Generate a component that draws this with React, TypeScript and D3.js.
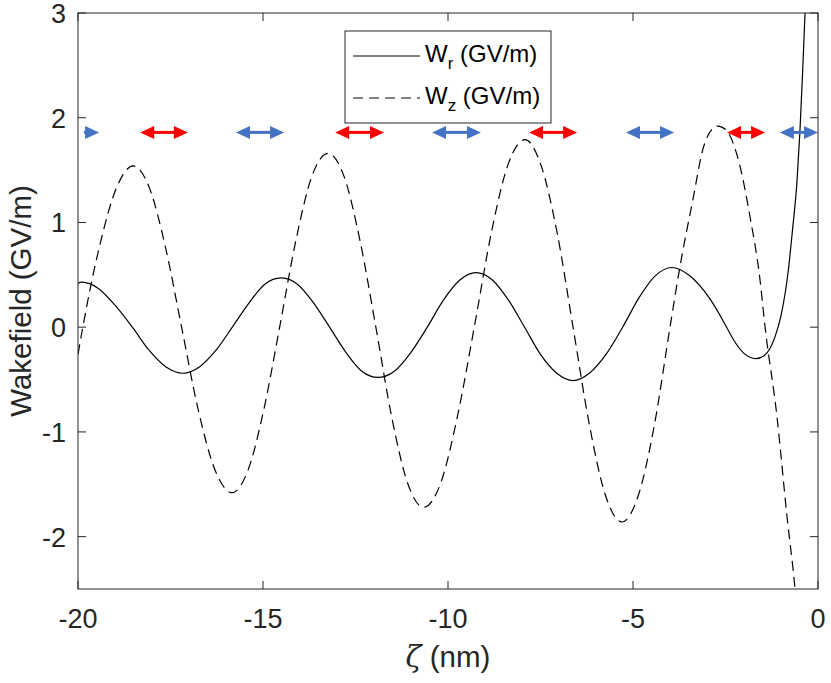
import { useEffect, useRef } from "react";
import * as d3 from "d3";

// ── Data ──────────────────────────────────────────────────

// W_r (GV/m), solid line: [zeta nm, value]
const wrPoints: [number, number][] = [
  [-20.0, 0.42], [-19.9, 0.43], [-19.45, 0.37], [-19.0, 0.21], [-18.53, 0.0],
  [-18.08, -0.22], [-17.62, -0.38], [-17.16, -0.44], [-16.72, -0.38], [-16.27, -0.22],
  [-15.83, 0.0], [-15.38, 0.23], [-14.95, 0.41], [-14.51, 0.47], [-14.07, 0.41],
  [-13.63, 0.23], [-13.2, 0.0], [-12.76, -0.24], [-12.33, -0.42], [-11.89, -0.48],
  [-11.45, -0.42], [-11.0, -0.24], [-10.56, 0.0], [-10.12, 0.26], [-9.68, 0.45],
  [-9.24, 0.52], [-8.8, 0.45], [-8.37, 0.26], [-7.93, 0.0], [-7.5, -0.26],
  [-7.06, -0.44], [-6.62, -0.51], [-6.18, -0.44], [-5.73, -0.26], [-5.28, 0.0],
  [-4.84, 0.28], [-4.4, 0.49], [-3.95, 0.57], [-3.5, 0.5], [-2.92, 0.27],
  [-2.47, 0.0], [-2.3, -0.11], [-2.0, -0.25], [-1.68, -0.3], [-1.45, -0.27],
  [-1.16, -0.09], [-1.0, 0.11], [-0.81, 0.52], [-0.68, 0.96], [-0.57, 1.38],
  [-0.49, 1.86], [-0.42, 2.4], [-0.35, 3.0], [-0.3, 3.4],
];

// W_z (GV/m), dashed line
const wzPoints: [number, number][] = [
  [-20.0, -0.26], [-19.87, 0.0], [-19.42, 0.77], [-18.96, 1.33], [-18.51, 1.54],
  [-18.07, 1.33], [-17.64, 0.77], [-17.2, 0.0], [-16.75, -0.79], [-16.29, -1.37],
  [-15.84, -1.58], [-15.41, -1.37], [-14.98, -0.79], [-14.55, 0.0], [-14.11, 0.83],
  [-13.68, 1.44], [-13.24, 1.66], [-12.81, 1.44], [-12.38, 0.83], [-11.95, 0.0],
  [-11.52, -0.86], [-11.09, -1.49], [-10.66, -1.72], [-10.2, -1.49], [-9.75, -0.86],
  [-9.29, 0.0], [-8.83, 0.9], [-8.38, 1.55], [-7.92, 1.79], [-7.49, 1.55],
  [-7.05, 0.9], [-6.62, 0.0], [-6.18, -0.93], [-5.74, -1.61], [-5.3, -1.86],
  [-4.86, -1.61], [-4.42, -0.93], [-4.0, 0.0], [-3.73, 0.58], [-3.38, 1.22],
  [-3.11, 1.7], [-2.84, 1.9], [-2.72, 1.92], [-2.6, 1.91], [-2.43, 1.86],
  [-2.11, 1.54], [-1.84, 1.06], [-1.57, 0.46], [-1.43, 0.0], [-1.11, -0.85],
  [-0.84, -1.8], [-0.62, -2.5], [-0.5, -3.0],
];

// double arrows: [start, end, colour, heads]
const arrowLevel = 1.86;
const arrows: [number, number, string, "both" | "right"][] = [
  [-19.84, -19.43, "#4472c4", "right"],
  [-18.32, -17.03, "#ff0000", "both"],
  [-15.73, -14.43, "#4472c4", "both"],
  [-13.05, -11.73, "#ff0000", "both"],
  [-10.43, -9.11, "#4472c4", "both"],
  [-7.81, -6.51, "#ff0000", "both"],
  [-5.19, -3.89, "#4472c4", "both"],
  [-2.46, -1.43, "#ff0000", "both"],
  [-1.03, 0.0, "#4472c4", "both"],
];

const xTicks = [-20, -15, -10, -5, 0];
const yTicks = [-2, -1, 0, 1, 2, 3];

// ── Layout ────────────────────────────────────────────────

const W = 831;
const H = 683;
const left = 78;
const right = 818;
const top = 13;
const bottom = 589;
const axisColor = "#262626";
const font = "'Liberation Sans', Arial, sans-serif";
const dash = "10,6";

export default function App() {
  const svgRef = useRef<SVGSVGElement>(null);

  useEffect(() => {
    if (!svgRef.current) return;
    const svg = d3.select(svgRef.current);
    svg.selectAll("*").remove();

    const x = d3.scaleLinear().domain([-20, 0]).range([left, right]);
    const y = d3.scaleLinear().domain([-2.5, 3]).range([bottom, top]);

    svg
      .append("defs")
      .append("clipPath")
      .attr("id", "plot-clip")
      .append("rect")
      .attr("x", left)
      .attr("y", top)
      .attr("width", right - left)
      .attr("height", bottom - top);

    const plot = svg.append("g").attr("clip-path", "url(#plot-clip)");

    const line = d3
      .line<[number, number]>()
      .x((d) => x(d[0]))
      .y((d) => y(d[1]))
      .curve(d3.curveMonotoneX);

    plot
      .append("path")
      .datum(wzPoints)
      .attr("fill", "none")
      .attr("stroke", "#000")
      .attr("stroke-width", 1.2)
      .attr("stroke-dasharray", dash)
      .attr("d", line);

    plot
      .append("path")
      .datum(wrPoints)
      .attr("fill", "none")
      .attr("stroke", "#000")
      .attr("stroke-width", 1.2)
      .attr("d", line);

    // arrows
    const headL = 14;
    const headH = 6.5;
    const ay = y(arrowLevel);
    arrows.forEach(([a, b, color, heads]) => {
      const x0 = x(a);
      const x1 = x(b);
      const g = plot.append("g");
      const s0 = heads === "both" ? x0 + headL - 1 : x0;
      g.append("line")
        .attr("x1", s0)
        .attr("x2", x1 - headL + 1)
        .attr("y1", ay)
        .attr("y2", ay)
        .attr("stroke", color)
        .attr("stroke-width", 3);
      g.append("path")
        .attr("d", `M${x1},${ay}L${x1 - headL},${ay - headH}L${x1 - headL},${ay + headH}Z`)
        .attr("fill", color);
      if (heads === "both") {
        g.append("path")
          .attr("d", `M${x0},${ay}L${x0 + headL},${ay - headH}L${x0 + headL},${ay + headH}Z`)
          .attr("fill", color);
      }
    });

    // axes box and ticks
    const axes = svg.append("g").attr("stroke", axisColor).attr("stroke-width", 1);
    axes
      .append("rect")
      .attr("x", left)
      .attr("y", top)
      .attr("width", right - left)
      .attr("height", bottom - top)
      .attr("fill", "none");
    const tl = 8;
    xTicks.forEach((t) => {
      axes.append("line").attr("x1", x(t)).attr("x2", x(t)).attr("y1", bottom).attr("y2", bottom - tl);
      axes.append("line").attr("x1", x(t)).attr("x2", x(t)).attr("y1", top).attr("y2", top + tl);
    });
    yTicks.forEach((t) => {
      axes.append("line").attr("x1", left).attr("x2", left + tl).attr("y1", y(t)).attr("y2", y(t));
      axes.append("line").attr("x1", right).attr("x2", right - tl).attr("y1", y(t)).attr("y2", y(t));
    });

    const labels = svg
      .append("g")
      .attr("font-family", font)
      .attr("fill", axisColor)
      .attr("font-size", 27);
    xTicks.forEach((t) => {
      labels
        .append("text")
        .attr("x", x(t))
        .attr("y", 628)
        .attr("text-anchor", "middle")
        .text(String(t));
    });
    yTicks.forEach((t) => {
      labels
        .append("text")
        .attr("x", 66)
        .attr("y", y(t) + 10)
        .attr("text-anchor", "end")
        .text(String(t));
    });

    // axis titles
    svg
      .append("text")
      .attr("transform", `translate(31,${(top + bottom) / 2}) rotate(-90)`)
      .attr("text-anchor", "middle")
      .attr("font-family", font)
      .attr("font-size", 29.5)
      .attr("fill", axisColor)
      .text("Wakefield (GV/m)");

    const xt = svg
      .append("text")
      .attr("x", (left + right) / 2)
      .attr("y", 667)
      .attr("text-anchor", "middle")
      .attr("font-family", font)
      .attr("font-size", 29.5)
      .attr("fill", axisColor);
    xt.append("tspan")
      .attr("font-family", "'DejaVu Serif', 'Liberation Serif', serif")
      .attr("font-style", "italic")
      .text("ζ");
    xt.append("tspan").text(" (nm)");

    // legend
    const lg = svg.append("g");
    lg.append("rect")
      .attr("x", 345)
      .attr("y", 31)
      .attr("width", 206)
      .attr("height", 92)
      .attr("fill", "#fff")
      .attr("stroke", axisColor)
      .attr("stroke-width", 1);
    const rows: [string, string | null, number][] = [
      ["r", null, 56],
      ["z", dash, 98],
    ];
    rows.forEach(([sub, da, ly]) => {
      const l = lg
        .append("line")
        .attr("x1", 353)
        .attr("x2", 420)
        .attr("y1", ly)
        .attr("y2", ly)
        .attr("stroke", "#000")
        .attr("stroke-width", 1.2);
      if (da) l.attr("stroke-dasharray", da);
      const t = lg
        .append("text")
        .attr("x", 425)
        .attr("y", ly + 6)
        .attr("font-family", font)
        .attr("font-size", 24)
        .attr("fill", "#000");
      t.append("tspan").text("W");
      t.append("tspan").attr("font-size", 17).attr("dy", 7).text(sub);
      t.append("tspan").attr("dy", -7).text(" (GV/m)");
    });
  }, []);

  return (
    <svg
      ref={svgRef}
      width={W}
      height={H}
      style={{ position: "absolute", left: 0, top: 0, background: "#fff" }}
    />
  );
}
